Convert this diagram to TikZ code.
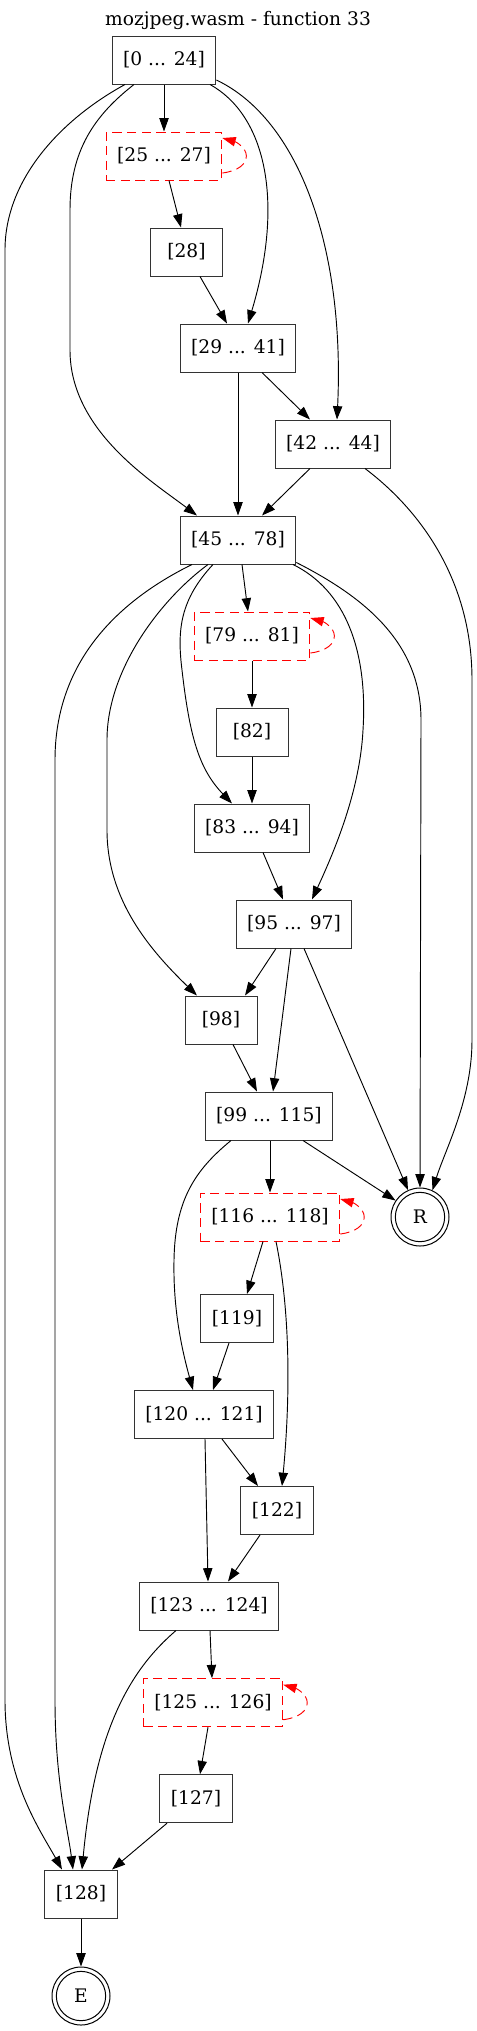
\documentclass[tikz,border=0pt]{standalone}
\usepackage{fontspec}
\setmainfont{DejaVu Serif}
\usetikzlibrary{arrows.meta,calc}
\newcommand{\selfloop}[1]{\draw[lop] ($(#1.east)+(0,17)$) .. controls ($(#1.east)+(16,15)$) and ($(#1.east)+(24,8)$) .. ($(#1.east)+(24,0)$) .. controls ($(#1.east)+(24,-8)$) and ($(#1.east)+(14,-14)$) .. ($(#1.east)+(0,-18)$);}
\begin{document}
\begin{tikzpicture}[x=0.75pt,y=-0.75pt,
  txt/.style={font=\fontsize{14pt}{16pt}\selectfont},
  blk/.style={txt, draw=black!80, line width=0.75pt, minimum width=54pt, minimum height=36pt, inner xsep=8.25pt, inner ysep=0pt},
  rblk/.style={blk, draw=red, dash pattern=on 7pt off 4pt},
  term/.style={txt, circle, draw, line width=0.75pt, minimum size=43.5pt, inner sep=0pt},
  edg/.style={line width=0.7pt, -{Triangle[length=10pt,width=7pt]}},
  lop/.style={edg, red, dash pattern=on 7pt off 4pt}]
\useasboundingbox (0,0) rectangle (477,2031);
\node[txt] (title) at (238,20) {mozjpeg.wasm - function 33};
\node[blk] (n0) at (164,60) {[0 ... 24]};
\node[rblk] (n25) at (164,156) {[25 ... 27]};
\node[blk] (n28) at (186.5,252) {[28]};
\node[blk] (n29) at (238,348) {[29 ... 41]};
\node[blk] (n42) at (333,444) {[42 ... 44]};
\node[blk] (n45) at (238,540) {[45 ... 78]};
\node[rblk] (n79) at (252,636) {[79 ... 81]};
\node[blk] (n82) at (252,732) {[82]};
\node[blk] (n83) at (252,828) {[83 ... 94]};
\node[blk] (n95) at (294,924) {[95 ... 97]};
\node[blk] (n98) at (221,1020) {[98]};
\node[blk] (n99) at (269,1116) {[99 ... 115]};
\node[rblk] (n116) at (270,1217) {[116 ... 118]};
\node[term] (R) at (420,1217) {R};
\draw[line width=0.75pt] (R.center) circle[radius=18.5pt];
\node[blk] (n119) at (237,1318.5) {[119]};
\node[blk] (n120) at (204,1414.5) {[120 ... 121]};
\node[blk] (n122) at (277,1510.5) {[122]};
\node[blk] (n123) at (209,1606) {[123 ... 124]};
\node[rblk] (n125) at (213,1702.7) {[125 ... 126]};
\node[blk] (n127) at (196,1798.7) {[127]};
\node[blk] (n128) at (81,1894) {[128]};
\node[term] (E) at (81,1996) {E};
\draw[line width=0.75pt] (E.center) circle[radius=18.5pt];

% from n0
\draw[edg] (n0) -- (n25);
\draw[edg] ($(n0.south)+(-39,0)$) .. controls (60,120) and (5,180) .. (5,250) -- (5,1700) .. controls (5,1780) and (40,1830) .. ($(n128.north)+(-19,0)$);
\draw[edg] ($(n0.south)+(-30,0)$) .. controls (95,115) and (70,150) .. (70,210) -- (70,350) .. controls (70,430) and (150,480) .. ($(n45.north)+(-41,0)$);
\draw[edg] ($(n0.south)+(46,0)$) .. controls (265,115) and (285,200) .. ($(n29.north)+(10,0)$);
\draw[edg] ($(n0.east)+(0,20)$) .. controls (300,120) and (345,250) .. ($(n42.north)+(4,0)$);
% n25
\selfloop{n25}
\draw[edg] ($(n25.south)+(5,0)$) -- ($(n28.north)+(-5.5,0)$);
\draw[edg] ($(n28.south)+(13.5,0)$) -- ($(n29.north)+(-11,0)$);
% n29
\draw[edg] (n29) -- (n45);
\draw[edg] ($(n29.south)+(24,0)$) -- ($(n42.north)+(-23,0)$);
% n42
\draw[edg] ($(n42.south)+(-23,0)$) -- ($(n45.north)+(24,0)$);
\draw[edg] ($(n42.south)+(32,0)$) .. controls (420,510) and (472,580) .. (472,680) -- (472,1040) .. controls (472,1100) and (445,1150) .. (R.65);
% n45
\draw[edg] ($(n45.south)+(4,0)$) -- ($(n79.north)+(-4,0)$);
\draw[edg] ($(n45.south)+(-46,0)$) .. controls (120,600) and (55,660) .. (55,760) -- (55,1700) .. controls (55,1780) and (68,1830) .. ($(n128.north)+(-8,0)$);
\draw[edg] ($(n45.south)+(-30,0)$) .. controls (160,600) and (107,670) .. (107,740) -- (107,830) .. controls (107,900) and (150,950) .. ($(n98.north)+(-24,0)$);
\draw[edg] ($(n45.south)+(-25,0)$) .. controls (180,600) and (177,630) .. (182,670) .. controls (190,740) and (200,770) .. ($(n83.north)+(-20,0)$);
\draw[edg] ($(n45.south)+(55,0)$) .. controls (345,590) and (368,650) .. (363,730) .. controls (360,790) and (335,850) .. ($(n95.north)+(18,0)$);
\draw[edg] ($(n45.south east)+(0,-2)$) .. controls (360,595) and (421,640) .. (421,720) -- (R.north);
% n79
\selfloop{n79}
\draw[edg] (n79) -- (n82);
\draw[edg] (n82) -- (n83);
\draw[edg] ($(n83.south)+(11,0)$) -- ($(n95.north)+(-11,0)$);
% n95
\draw[edg] ($(n95.south)+(-18,0)$) -- ($(n98.north)+(24,0)$);
\draw[edg] ($(n95.south)+(-3,0)$) -- ($(n99.north)+(4,0)$);
\draw[edg] ($(n95.south)+(10,0)$) -- (R.114);
\draw[edg] ($(n98.south)+(12,0)$) -- ($(n99.north)+(-12,0)$);
% n99
\draw[edg] ($(n99.south)+(1,0)$) -- (n116.north);
\draw[edg] ($(n99.south)+(34,0)$) -- (R.146);
\draw[edg] ($(n99.south)+(-38,0)$) .. controls (195,1170) and (175,1200) .. (174,1260) .. controls (173,1310) and (182,1350) .. ($(n120.north)+(-11,0)$);
% n116
\selfloop{n116}
\draw[edg] ($(n116.south)+(-7,0)$) -- ($(n119.north)+(10,0)$);
\draw[edg] ($(n116.south)+(6,0)$) .. controls (288,1300) and (292,1380) .. ($(n122.north)+(5,0)$);
\draw[edg] ($(n119.south)+(-8,0)$) -- ($(n120.north)+(9,0)$);
% n120
\draw[edg] ($(n120.south)+(1,0)$) -- ($(n123.north)+(-1,0)$);
\draw[edg] ($(n120.south)+(18,0)$) -- ($(n122.north)+(-19,0)$);
\draw[edg] ($(n122.south)+(-17,0)$) -- ($(n123.north)+(19,0)$);
% n123
\draw[edg] ($(n123.south)+(1,0)$) -- ($(n125.north)+(-1,0)$);
\draw[edg] ($(n123.south)+(-33,0)$) .. controls (130,1670) and (95,1730) .. ($(n128.north)+(1,0)$);
\selfloop{n125}
\draw[edg] ($(n125.south)+(-5,0)$) -- ($(n127.north)+(4,0)$);
\draw[edg] ($(n127.south)+(-29,0)$) -- ($(n128.north)+(31,0)$);
\draw[edg] (n128) -- (E);
\end{tikzpicture}
\end{document}
